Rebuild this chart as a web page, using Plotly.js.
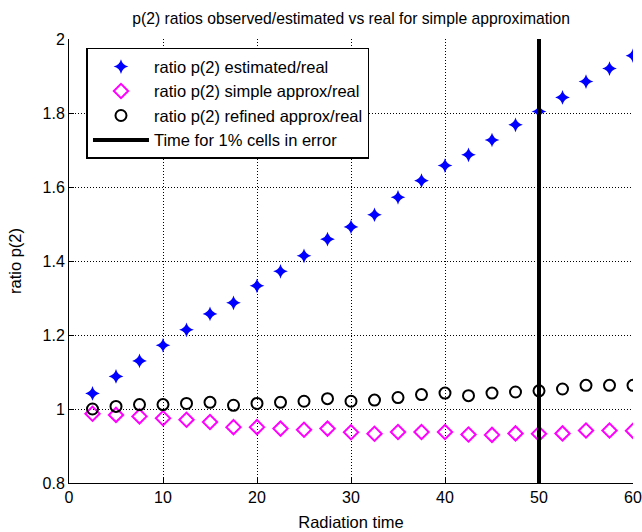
<!DOCTYPE html>
<html><head><meta charset="utf-8">
<script src="https://cdn.plot.ly/plotly-3.0.1.min.js"></script>
<style>html,body{margin:0;padding:0;background:#fff}#chart{width:642px;height:532px}</style>
</head><body><div id="chart"></div>
<script>
const radiationTime = [2.5,5,7.5,10,12.5,15,17.5,20,22.5,25,27.5,30,32.5,35,37.5,40,42.5,45,47.5,50,52.5,55,57.5,60];
const ratioEstimated = [1.042,1.088,1.13,1.172,1.214,1.257,1.287,1.333,1.372,1.414,1.459,1.492,1.525,1.572,1.617,1.658,1.687,1.727,1.768,1.804,1.842,1.885,1.92,1.955];
const ratioSimple = [0.987,0.984,0.980,0.975,0.971,0.965,0.951,0.951,0.947,0.944,0.947,0.937,0.933,0.938,0.938,0.938,0.931,0.930,0.934,0.933,0.934,0.942,0.942,0.941];
const ratioRefined = [1.000,1.007,1.012,1.012,1.015,1.018,1.010,1.015,1.018,1.021,1.028,1.021,1.024,1.031,1.039,1.043,1.036,1.043,1.046,1.049,1.054,1.064,1.064,1.064];
const errorTimeX = [50,50];
const errorTimeY = [0.8,2];
const xTicks = [0,10,20,30,40,50,60];
const yTicks = [0.8,1,1.2,1.4,1.6,1.8,2];
const yTickText = ['0.8','1','1.2','1.4','1.6','1.8','2'];

const traces = [
  {x: radiationTime, y: ratioEstimated, mode: 'markers', type: 'scatter', name: 'ratio p(2) estimated/real',
   marker: {symbol: 'star-diamond', size: 10.5, color: '#0000ff', line: {width: 0}}},
  {x: radiationTime, y: ratioSimple, mode: 'markers', type: 'scatter', name: 'ratio p(2) simple approx/real',
   marker: {symbol: 'diamond-open', size: 11, color: '#ff00ff', line: {width: 2, color: '#ff00ff'}}},
  {x: radiationTime, y: ratioRefined, mode: 'markers', type: 'scatter', name: 'ratio p(2) refined approx/real',
   marker: {symbol: 'circle-open', size: 11, color: '#000000', line: {width: 2, color: '#000000'}}},
  {x: errorTimeX, y: errorTimeY, mode: 'lines', type: 'scatter', name: 'Time for 1% cells in error',
   line: {color: '#000000', width: 4}}
];

const axisCommon = {
  showgrid: true, gridcolor: '#000000', griddash: '1px,2px', gridwidth: 1,
  zeroline: false, showline: true, linecolor: '#000000', linewidth: 1,
  ticks: 'inside', ticklen: 5, tickcolor: '#000000',
  tickfont: {family: 'Liberation Sans, Arial, sans-serif', size: 16, color: '#000'}
};

const layout = {
  width: 642, height: 532,
  margin: {l: 69, r: 9, t: 39, b: 49, pad: 0},
  paper_bgcolor: '#ffffff', plot_bgcolor: '#ffffff',
  font: {family: 'Liberation Sans, Arial, sans-serif', size: 16, color: '#000'},
  title: {text: 'p(2) ratios observed/estimated vs real for simple approximation',
          font: {size: 15.7, color: '#000'}, x: 0.547, xanchor: 'center', y: 0.966, yanchor: 'middle'},
  xaxis: Object.assign({}, axisCommon, {range: [0, 60], tickvals: xTicks, ticktext: xTicks.map(String),
    title: {text: 'Radiation time', font: {size: 16.5}, standoff: 11}}),
  yaxis: Object.assign({}, axisCommon, {range: [0.8, 2], tickvals: yTicks, ticktext: yTickText,
    title: {text: 'ratio p(2)', font: {size: 16.5}, standoff: 16}}),
  showlegend: true,
  legend: {x: 0.031, y: 0.98, xanchor: 'left', yanchor: 'top', bgcolor: '#ffffff',
    bordercolor: '#000000', borderwidth: 1.5, font: {size: 16.5}, tracegroupgap: 0, itemwidth: 56}
};

Plotly.newPlot('chart', traces, layout, {displayModeBar: false, staticPlot: true});
</script></body></html>
